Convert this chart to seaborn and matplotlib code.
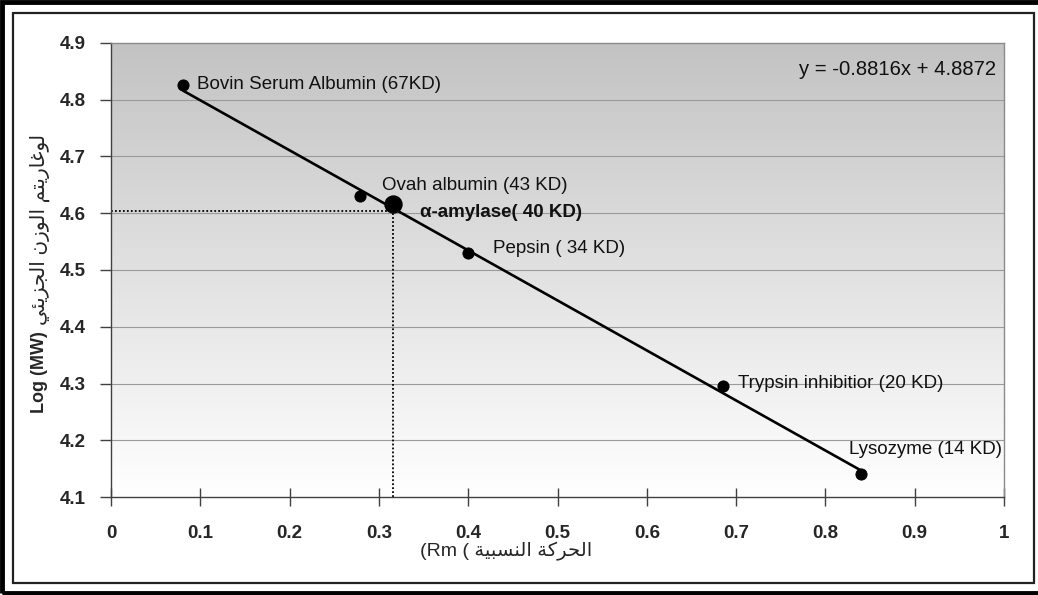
import matplotlib
matplotlib.use("Agg")
import matplotlib.pyplot as plt
from matplotlib.colors import LinearSegmentedColormap
from matplotlib.patches import Rectangle
import numpy as np
import seaborn as sns

# standard proteins: relative mobility (Rm) and log10(MW)
protein_names = ["Bovin Serum Albumin (67KD)", "Ovah albumin (43 KD)", "Pepsin ( 34 KD)",
                 "Trypsin inhibitior (20 KD)", "Lysozyme (14 KD)"]
rm_values = [0.081, 0.279, 0.400, 0.685, 0.840]
log_mw = [4.826, 4.631, 4.530, 4.296, 4.140]

# the unknown enzyme
unknown_name = "α-amylase( 40 KD)"
unknown_rm = 0.316
unknown_log = 4.617
guide_log = 4.604

# trend line from the chart
slope = -0.8816
intercept = 4.8872

x_ticks = [0, 0.1, 0.2, 0.3, 0.4, 0.5, 0.6, 0.7, 0.8, 0.9, 1]
x_tick_labels = ["0", "0.1", "0.2", "0.3", "0.4", "0.5", "0.6", "0.7", "0.8", "0.9", "1"]
y_ticks = [4.1, 4.2, 4.3, 4.4, 4.5, 4.6, 4.7, 4.8, 4.9]

y_title_ar = "لوغاريتم الوزن الجزيئي"
x_title_ar = "الحركة النسبية"

# label offsets in pixels from each point
label_offsets = [(14, 0), (22, 10), (25, 4), (15, 2), (-12, 25)]


# simple arabic shaping (presentation forms) + reverse for LTR drawing
FORMS = {
    "ا": ("\ufe8d", "\ufe8e", None, None),
    "ل": ("\ufedd", "\ufede", "\ufedf", "\ufee0"),
    "و": ("\ufeed", "\ufeee", None, None),
    "غ": ("\ufecd", "\ufece", "\ufecf", "\ufed0"),
    "ر": ("\ufead", "\ufeae", None, None),
    "ي": ("\ufef1", "\ufef2", "\ufef3", "\ufef4"),
    "ت": ("\ufe95", "\ufe96", "\ufe97", "\ufe98"),
    "م": ("\ufee1", "\ufee2", "\ufee3", "\ufee4"),
    "ز": ("\ufeaf", "\ufeb0", None, None),
    "ن": ("\ufee5", "\ufee6", "\ufee7", "\ufee8"),
    "ج": ("\ufe9d", "\ufe9e", "\ufe9f", "\ufea0"),
    "ئ": ("\ufe89", "\ufe8a", "\ufe8b", "\ufe8c"),
    "ح": ("\ufea1", "\ufea2", "\ufea3", "\ufea4"),
    "ك": ("\ufed9", "\ufeda", "\ufedb", "\ufedc"),
    "ة": ("\ufe93", "\ufe94", None, None),
    "س": ("\ufeb1", "\ufeb2", "\ufeb3", "\ufeb4"),
    "ب": ("\ufe8f", "\ufe90", "\ufe91", "\ufe92"),
}


def shape_arabic(text):
    out = []
    for i, ch in enumerate(text):
        if ch not in FORMS:
            out.append(ch)
            continue
        prev = text[i - 1] if i > 0 else " "
        nxt = text[i + 1] if i < len(text) - 1 else " "
        join_prev = prev in FORMS and FORMS[prev][2] is not None
        join_next = FORMS[ch][2] is not None and nxt in FORMS
        iso, fin, ini, med = FORMS[ch]
        if join_prev and join_next:
            out.append(med)
        elif join_prev:
            out.append(fin)
        elif join_next:
            out.append(ini)
        else:
            out.append(iso)
    return "".join(out)[::-1]


sns.set_style("white")
plt.rcParams["font.family"] = ["Liberation Sans", "DejaVu Sans"]

W, H = 1038, 595
fig = plt.figure(figsize=(W / 100, H / 100), dpi=100)
ax = fig.add_axes([111 / W, 1 - 497 / H, 893 / W, 454 / H])

# gradient background of the plot area
grad = np.linspace(0, 1, 256).reshape(-1, 1)
cmap = LinearSegmentedColormap.from_list("bg", ["#c3c3c3", "#ffffff"])
ax.imshow(grad, extent=[0, 1, 4.1, 4.9], aspect="auto", cmap=cmap, origin="upper", zorder=0)

for yv in y_ticks[1:-1]:
    ax.axhline(yv, color="#9a9a9a", lw=0.8, zorder=1)

# dotted guide lines for the unknown
ax.plot([0, unknown_rm], [guide_log, guide_log], color="black", lw=1.3,
        linestyle=(0, (1, 1.2)), zorder=2)
ax.plot([unknown_rm, unknown_rm], [4.1, guide_log], color="black", lw=1.3,
        linestyle=(0, (1, 1.2)), zorder=2)

# trend line across the standards
line_x = np.array([min(rm_values), max(rm_values)])
sns.lineplot(x=line_x, y=slope * line_x + intercept, color="black", lw=1.9, ax=ax, zorder=3)

sns.scatterplot(x=rm_values, y=log_mw, color="black", s=65, edgecolor="black", ax=ax, zorder=4)
sns.scatterplot(x=[unknown_rm], y=[unknown_log], color="black", s=150, edgecolor="black",
                ax=ax, zorder=4)

for name, xv, yv, (dx, dy) in zip(protein_names, rm_values, log_mw, label_offsets):
    ax.annotate(name, (xv, yv), xytext=(dx, dy), textcoords="offset pixels",
                ha="left", va="center", fontsize=13.5, color="#111111", zorder=5)
ax.annotate(unknown_name, (unknown_rm, unknown_log), xytext=(27, -9), textcoords="offset pixels",
            ha="left", va="center", fontsize=13.5, fontweight="bold", color="#111111", zorder=5)

ax.text(0.991, 4.854, "y = %.4fx + %.4f" % (slope, intercept), ha="right", va="center",
        fontsize=14.6, color="#111111", zorder=5)

ax.set_xlim(0, 1)
ax.set_ylim(4.1, 4.9)
ax.set_xticks(x_ticks)
ax.set_xticklabels(x_tick_labels, fontsize=13.5, fontweight="bold")
ax.set_yticks(y_ticks)
ax.set_yticklabels(["%.1f" % v for v in y_ticks], fontsize=13.5, fontweight="bold")
ax.tick_params(axis="y", direction="out", length=8, width=1, color="#404040", pad=10, left=True)
ax.tick_params(axis="x", direction="inout", length=13, width=1, color="#404040", pad=14, bottom=True)
ax.set_xlabel("")
ax.set_ylabel("")

for side in ["left", "bottom"]:
    ax.spines[side].set_color("#404040")
    ax.spines[side].set_linewidth(1.0)
for side in ["top", "right"]:
    ax.spines[side].set_color("#8a8a8a")
    ax.spines[side].set_linewidth(1.0)

# axis titles: bold latin part, regular arabic part
fig.text(40 / W, 1 - 413 / H, "Log (MW)", rotation=90,
         ha="center", va="bottom", fontsize=13, fontweight="bold")
fig.text(40 / W, 1 - 325 / H, shape_arabic(y_title_ar), rotation=90,
         ha="center", va="bottom", fontsize=14.5)
fig.text(506 / W, 1 - 551 / H, "(Rm ( " + shape_arabic(x_title_ar),
         ha="center", va="center", fontsize=14)

# chart frames (outer frame runs off the right edge)
fig.add_artist(Rectangle((1.5 / W, 2.5 / H), W / W, (H - 4) / H, transform=fig.transFigure,
                         fill=False, edgecolor="black", lw=3.5))
fig.add_artist(Rectangle((13 / W, 1 - 583 / H), 1021 / W, 570 / H, transform=fig.transFigure,
                         fill=False, edgecolor="#222222", lw=1.6))

fig.savefig("out.png", dpi=100, facecolor="white")
